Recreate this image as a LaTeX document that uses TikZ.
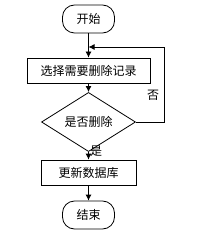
\documentclass[tikz,border=0pt]{standalone}
\usepackage{fontspec}
\newfontfamily\cjk{Noto Sans CJK SC}
\usetikzlibrary{positioning,arrows.meta}
\usetikzlibrary{shapes.geometric}

\begin{document}
\begin{tikzpicture}[x=0.75pt,y=-0.75pt,
  font=\cjk\fontsize{9}{10}\selectfont,
  term/.style={draw,rounded corners=9pt,minimum width=39pt,minimum height=21pt,inner sep=0pt},
  procbox/.style={draw,minimum height=18.75pt,inner sep=0pt},
  askbox/.style={draw,diamond,minimum width=70.5pt,minimum height=22.5pt,inner sep=0pt},
  arr/.style={-{Latex[length=4.5pt,width=4.5pt]}},
  line width=0.6pt]
  \useasboundingbox (0,0) rectangle (211,235);
  \node[term] (start) at (88.5,19) {开始};
  \node[procbox,minimum width=92.25pt] (sel) at (88.5,70.5) {选择需要删除记录};
  \node[askbox] (ask) at (88.5,122) {是否删除};
  \node[procbox,minimum width=71.25pt] (upd) at (88.5,172.5) {更新数据库};
  \node[term] (stop) at (88.5,215) {结束};
  \coordinate (back) at (164,47);
  \coordinate (join) at (88.5,47);
  \draw[arr] (start) -- (sel);
  \draw[arr] (sel) -- (ask);
  \draw[arr] (ask) -- (upd);
  \draw[arr] (upd) -- (stop);
  \draw[arr] (ask.east) -| (back) -- (join);
  \node (no) at (153,95) {否};
  \node (yes) at (96,151) {是};
\end{tikzpicture}
\end{document}
